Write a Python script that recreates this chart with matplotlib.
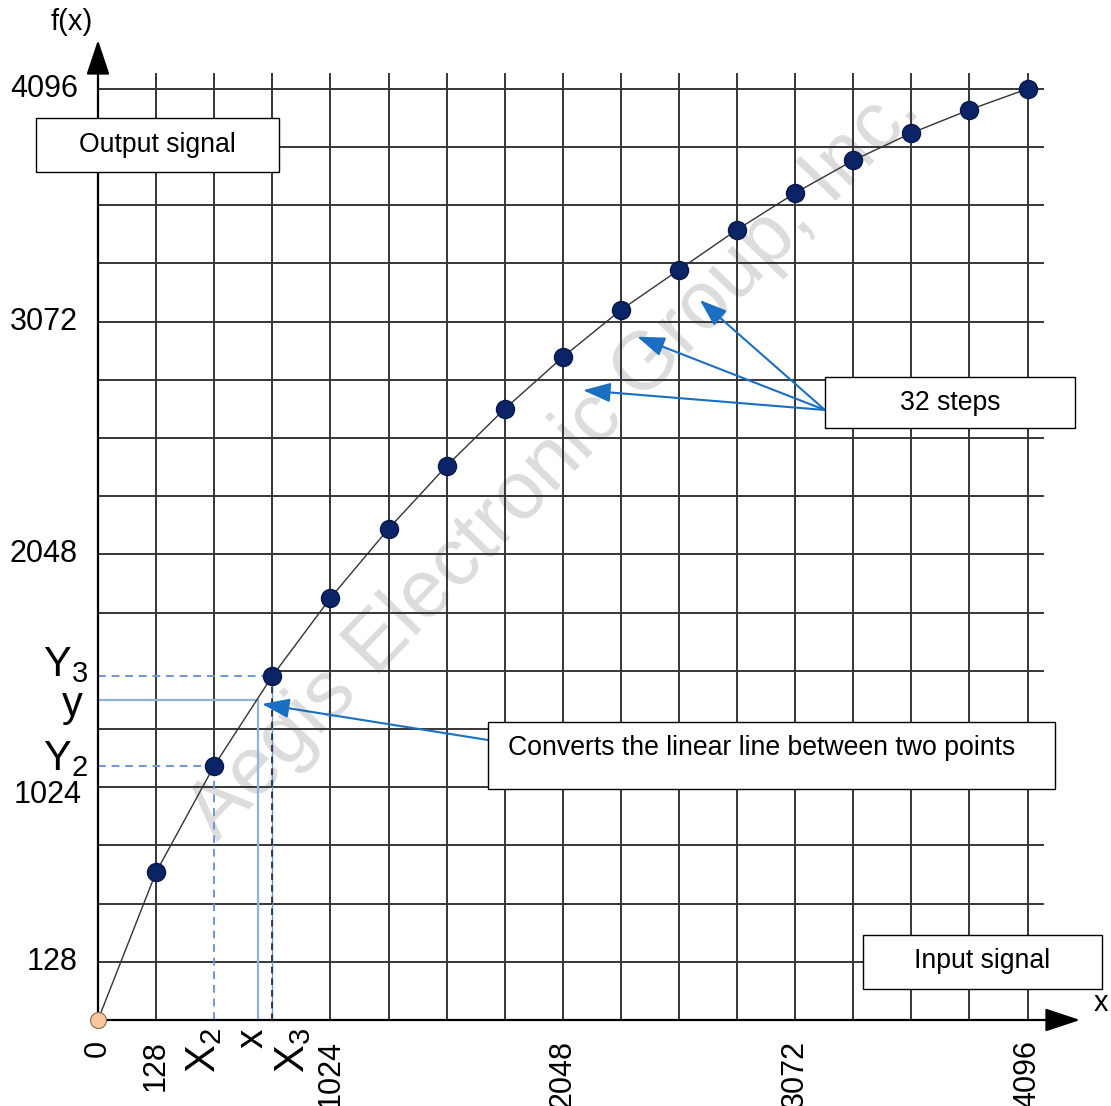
import numpy as np
import matplotlib
matplotlib.use("Agg")
import matplotlib.pyplot as plt
from matplotlib.patches import Rectangle

plt.rcParams['font.family'] = ['Liberation Sans', 'DejaVu Sans']

# --- data (grid units: 16 steps on each axis) ---
steps = [0, 1, 2, 3, 4, 5, 6, 7, 8, 9, 10, 11, 12, 13, 14, 15, 16]
f_steps = [0, 2.54, 4.37, 5.91, 7.25, 8.44, 9.52, 10.50, 11.39, 12.20,
           12.89, 13.58, 14.21, 14.77, 15.24, 15.64, 16.0]

y_tick_pos = [1, 4, 8, 12, 16]
y_tick_labels = ['128', '1024', '2048', '3072', '4096']
x_tick_pos = [0, 1, 4, 8, 12, 16]
x_tick_labels = ['0', '128', '1024', '2048', '3072', '4096']

x2, x3 = 2, 3
x_val, y_val = 2.75, 5.5
arrow_targets = [(10.36, 12.37), (9.28, 11.74), (8.35, 10.82)]

GRID_TOP = 16.25
GRID_RIGHT = 16.26

# pixel -> data helpers for layout only
def px(x):
    return (x - 98) / 58.1

def py(y):
    return (1020 - y) / 58.2

fig = plt.figure(figsize=(11.11, 11.06), dpi=100)
ax = fig.add_axes([0, 0, 1, 1])
ax.set_xlim(px(0), px(1111))
ax.set_ylim(py(1106), py(0))
ax.axis('off')

gcol = '#363636'
glw = 1.4

# watermark
ax.text(px(555), py(462), 'Aegis Electronic Group, Inc.', fontsize=59,
        color='#dcdcdc', rotation=46, ha='center', va='center', zorder=0.5)

# grid
for i in range(1, 17):
    y0 = 0
    if i == x2:
        y0 = f_steps[x2]
    if i == x3:
        y0 = f_steps[x3]
    ax.plot([i, i], [y0, GRID_TOP], color=gcol, lw=glw, zorder=1)
for j in range(1, 17):
    x0 = 0
    if j == 6:
        x0 = x3
    ax.plot([x0, GRID_RIGHT], [j, j], color=gcol, lw=glw, zorder=1)

# helper lines for interpolation
bl = '#6f96d6'
ax.plot([0, x2], [f_steps[x2]] * 2, color=bl, lw=1.4, ls=(0, (4, 3)), zorder=2)
ax.plot([x2, x2], [0, f_steps[x2]], color=bl, lw=1.4, ls=(0, (4, 3)), zorder=2)
ax.plot([0, x3], [f_steps[x3]] * 2, color=bl, lw=1.4, ls=(0, (4, 3)), zorder=2)
ax.plot([x3, x3], [0, f_steps[x3]], color=bl, lw=1.0, zorder=2)
ax.plot([x3, x3], [0, f_steps[x3]], color='#222222', lw=1.2, ls=(0, (4, 3)), zorder=2)
ax.plot([0, x_val], [y_val, y_val], color='#8fb2e3', lw=1.6, zorder=2)
ax.plot([x_val, x_val], [0, y_val], color='#8fb2e3', lw=1.6, zorder=2)

# axes with arrows
ax.annotate('', xy=(0, py(40)), xytext=(0, 0),
            arrowprops=dict(arrowstyle='-|>,head_length=1.5,head_width=0.5',
                            mutation_scale=14.4, lw=1.6, color='black',
                            shrinkA=0, shrinkB=0), zorder=3)
ax.annotate('', xy=(px(1080), 0), xytext=(0, 0),
            arrowprops=dict(arrowstyle='-|>,head_length=1.5,head_width=0.5',
                            mutation_scale=14.4, lw=1.6, color='black',
                            shrinkA=0, shrinkB=0), zorder=3)
ax.text(px(72), py(22), 'f(x)', fontsize=21, ha='center', va='center')
ax.text(px(1101), py(1003), 'x', fontsize=21, ha='center', va='center')

# curve and points
ax.plot(steps, f_steps, color='#333333', lw=1.0, zorder=4)
ax.plot(steps[1:], f_steps[1:], 'o', ms=13, mfc='#0b2466', mec='#06184a',
        mew=1.0, zorder=5)
ax.plot(steps[0], f_steps[0], 'o', ms=11.5, mfc='#f8c79b', mec='#8a6a50',
        mew=0.8, zorder=5)

# y tick labels
for pos, lab in zip(y_tick_pos, y_tick_labels):
    if lab == '1024':
        ax.text(px(82), py(795), lab, fontsize=22, ha='right', va='center')
    else:
        ax.text(px(78), pos, lab, fontsize=22, ha='right', va='center')
ax.text(px(88), py(665), r'$\mathregular{Y_3}$', fontsize=30, ha='right', va='center')
ax.text(px(83), py(705), 'y', fontsize=30, ha='right', va='center')
ax.text(px(88), py(759), r'$\mathregular{Y_2}$', fontsize=30, ha='right', va='center')

# x tick labels (rotated)
for pos, lab in zip(x_tick_pos, x_tick_labels):
    ax.text(pos, py(1040), lab, fontsize=22, rotation=90, ha='center', va='top')
ax.text(px(204), py(1028), r'$\mathregular{X_2}$', fontsize=30, rotation=90,
        ha='center', va='top')
ax.text(px(253), py(1028), r'$\mathregular{x}$', fontsize=28, rotation=90,
        ha='center', va='top')
ax.text(px(293), py(1028), r'$\mathregular{X_3}$', fontsize=30, rotation=90,
        ha='center', va='top')

# boxes
def box(x0, y0, x1, y1, label, tx=None, ty=None, ha='center'):
    r = Rectangle((px(x0), py(y1)), px(x1) - px(x0), py(y0) - py(y1),
                  facecolor='white', edgecolor='black', lw=1.0, zorder=6)
    ax.add_patch(r)
    if tx is None:
        tx = (x0 + x1) / 2
    if ty is None:
        ty = (y0 + y1) / 2
    ax.text(px(tx), py(ty), label, fontsize=19.2, ha=ha, va='center', zorder=7)

box(36, 118, 279, 172, 'Output signal')
box(825, 377, 1075, 428, '32 steps', ty=403)
box(488, 722, 1055, 789, 'Converts the linear line between two points',
    tx=508, ty=748, ha='left')
box(863, 935, 1102, 989, 'Input signal', ty=961)

# blue arrows
acol = '#1b6fc2'
astyle = dict(arrowstyle='-|>,head_length=1.4,head_width=0.5',
              mutation_scale=12, lw=1.5, color=acol, shrinkA=0, shrinkB=0)
for tgt in arrow_targets:
    ax.annotate('', xy=tgt, xytext=(px(825), py(410)), arrowprops=astyle, zorder=5)
ax.annotate('', xy=(px(262), py(704)), xytext=(px(488), py(740)),
            arrowprops=astyle, zorder=5)

fig.savefig('out.png', dpi=100)
